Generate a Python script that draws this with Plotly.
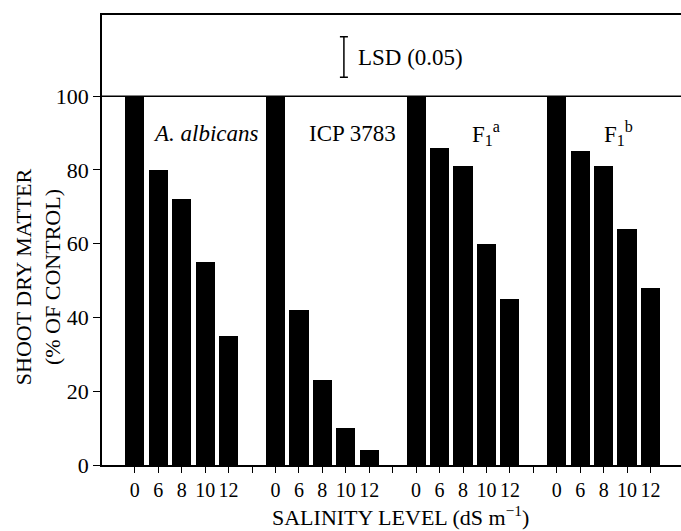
import plotly.graph_objects as go

# ---- data ----
groups = ["A. albicans", "ICP 3783", "F1a", "F1b"]
group_labels = ["<i>A. albicans</i>", "ICP 3783", "F<sub>1</sub><sup>a</sup>", "F<sub>1</sub><sup>b</sup>"]
salinity = ["0", "6", "8", "10", "12"]
albicans = [100, 80, 72, 55, 35]
icp3783 = [100, 42, 23, 10, 4]
f1a = [100, 86, 81, 60, 45]
f1b = [100, 85, 81, 64, 48]
series = [albicans, icp3783, f1a, f1b]
CONTROL = 100
LSD = 11.0
LSD_CENTER = 110.6

FONT = "Liberation Serif"
slot = 6  # 5 bars + 1 gap slot per group

xs, ys, tickvals, ticktext, sepvals = [], [], [], [], []
for g, vals in enumerate(series):
    for i, v in enumerate(vals):
        xs.append(g * slot + i)
        ys.append(v)
        tickvals.append(g * slot + i)
        ticktext.append(salinity[i])
    if g < len(series) - 1:
        sepvals.append(g * slot + 5)

fig = go.Figure()
fig.add_trace(go.Bar(x=xs, y=ys, width=0.82, marker=dict(color="black", line=dict(width=0)),
                     showlegend=False, hoverinfo="skip"))

# LSD bar
fig.add_trace(go.Scatter(x=[8.92], y=[LSD_CENTER], mode="markers",
                         marker=dict(size=1, color="black", opacity=0),
                         error_y=dict(type="data", array=[LSD / 2], color="black", thickness=1.5, width=4),
                         showlegend=False, hoverinfo="skip"))

annotations = [
    dict(x=9.45, y=LSD_CENTER, xref="x", yref="y", text="LSD (0.05)", showarrow=False,
         xanchor="left", yanchor="middle", font=dict(family=FONT, size=23, color="black")),
    dict(x=-0.11, y=51, xref="paper", yref="y", text="SHOOT DRY MATTER<br>(% OF CONTROL)",
         showarrow=False, textangle=-90, xanchor="center", yanchor="middle",
         font=dict(family=FONT, size=22, color="black")),
    dict(x=0.515, y=-0.113, xref="paper", yref="paper", text="SALINITY LEVEL (dS m<sup>−1</sup>)",
         showarrow=False, xanchor="center", yanchor="middle",
         font=dict(family=FONT, size=22, color="black")),
]
label_x = [3.04, 9.3, 15.0, 20.65]
for lx, lab in zip(label_x, group_labels):
    annotations.append(dict(x=lx, y=90, xref="x", yref="y", text=lab, showarrow=False,
                            xanchor="center", yanchor="middle",
                            font=dict(family=FONT, size=23, color="black")))

fig.update_layout(
    width=681, height=531,
    margin=dict(l=102, r=0, t=15, b=66),
    paper_bgcolor="white", plot_bgcolor="white",
    font=dict(family=FONT, size=20, color="black"),
    bargap=0,
    annotations=annotations,
    shapes=[dict(type="line", xref="paper", yref="y", x0=0, x1=1, y0=CONTROL, y1=CONTROL,
                 line=dict(color="black", width=1.5))],
    xaxis=dict(range=[-1.4, 23.3], tickmode="array", tickvals=tickvals, ticktext=ticktext,
               ticks="outside", ticklen=6, tickwidth=1.2, tickcolor="black",
               minor=dict(tickmode="array", tickvals=sepvals, ticks="outside", ticklen=6,
                          tickwidth=1.2, tickcolor="black", showgrid=False),
               showline=True, linecolor="black", linewidth=1.5, mirror=True,
               showgrid=False, zeroline=False, automargin=False,
               tickfont=dict(family=FONT, size=20, color="black")),
    yaxis=dict(range=[0, 122], tickvals=[0, 20, 40, 60, 80, 100],
               ticks="outside", ticklen=7, tickwidth=1.2, tickcolor="black",
               showline=True, linecolor="black", linewidth=1.5,
               showgrid=False, zeroline=False, automargin=False,
               tickfont=dict(family=FONT, size=22, color="black")),
)

fig.write_html("out.html", config={"displayModeBar": False},
               post_script="document.body.style.margin='0';")
